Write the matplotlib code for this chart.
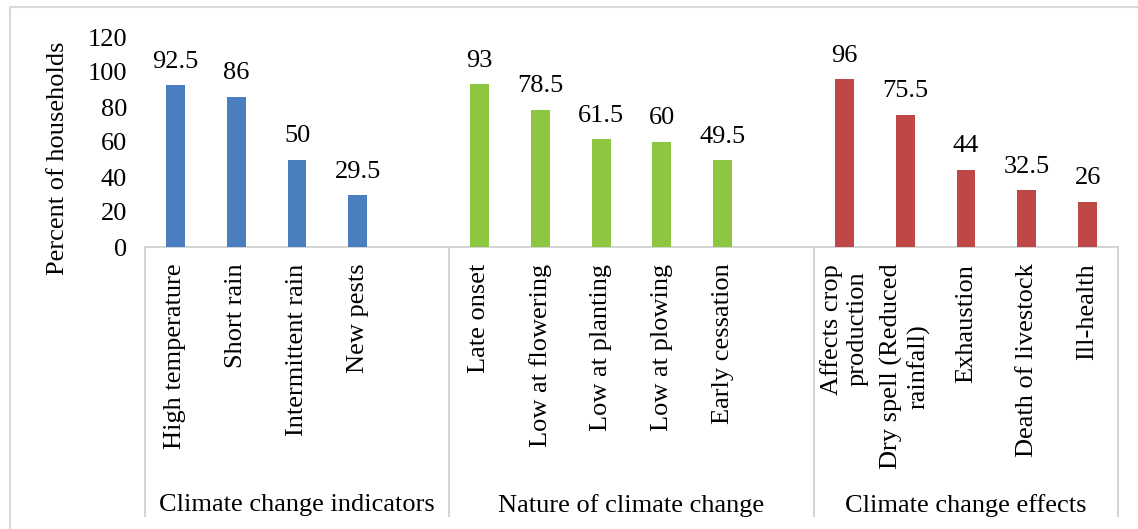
import matplotlib.pyplot as plt
import numpy as np

plt.rcParams['font.family'] = ['Liberation Serif', 'DejaVu Serif']

groups = ["Climate change indicators", "Nature of climate change", "Climate change effects"]
indicator_labels = ["High temperature", "Short rain", "Intermittent rain", "New pests"]
indicator_values = [92.5, 86, 50, 29.5]
nature_labels = ["Late onset", "Low at flowering", "Low at planting", "Low at plowing", "Early cessation"]
nature_values = [93, 78.5, 61.5, 60, 49.5]
effect_labels = ["Affects crop\nproduction", "Dry spell (Reduced\nrainfall)", "Exhaustion",
                 "Death of livestock", "Ill-health"]
effect_values = [96, 75.5, 44, 32.5, 26]
colors = ["#4A7EBE", "#8DC63F", "#BF4846"]
y_ticks = [0, 20, 40, 60, 80, 100, 120]

# each group keeps an empty category slot at its end, like the Excel source (not the last one)
group_labels = [indicator_labels, nature_labels, effect_labels]
group_values = [indicator_values, nature_values, effect_values]
slots = [len(indicator_labels) + 1, len(nature_labels) + 1, len(effect_labels)]

W, H = 1138, 529
fig = plt.figure(figsize=(W / 100, H / 100), dpi=100)
ax = fig.add_axes([145 / W, 1 - 247 / H, (1118 - 145) / W, 210 / H])

fs = 19
tick_pos, tick_txt = [], []
start = 0
edges = [-0.5]
for g in range(3):
    x = np.arange(len(group_values[g])) + start
    ax.bar(x, group_values[g], width=0.31, color=colors[g], zorder=3)
    for xi, v in zip(x, group_values[g]):
        ax.annotate(f"{v:g}", (xi, v), xytext=(0, 9), textcoords="offset points",
                    ha="center", va="bottom", fontsize=fs)
    tick_pos += list(x)
    tick_txt += group_labels[g]
    mid = start - 0.5 + slots[g] / 2
    ax.text(mid, -1.23, groups[g], transform=ax.get_xaxis_transform(),
            ha="center", va="center", fontsize=fs)
    start += slots[g]
    edges.append(start - 0.5)

ax.set_xlim(-0.5, start - 0.5)
ax.set_ylim(0, 120)
ax.set_yticks(y_ticks)
ax.set_xticks(tick_pos)
ax.set_xticklabels(tick_txt, rotation=90, va="top", ha="center",
                   multialignment="center", fontsize=fs)
ax.tick_params(axis="y", length=0, pad=13, labelsize=fs)
ax.tick_params(axis="x", length=0, pad=12)

for s in ["top", "right", "left"]:
    ax.spines[s].set_visible(False)
ax.spines["bottom"].set_color("#D0D0D0")
ax.spines["bottom"].set_linewidth(1.3)

for e in edges:
    ax.plot([e, e], [0, -1.28], transform=ax.get_xaxis_transform(), color="#D0D0D0",
            lw=1.3, clip_on=False)

fig.text(58 / W, 1 - 158 / H, "Percent of households", rotation=90, ha="center",
         va="center", fontsize=fs)

# outer chart border (cut at the bottom and right in the source)
fig.add_artist(plt.Line2D([10 / W, 10 / W, 1], [0, 1 - 7 / H, 1 - 7 / H],
                          transform=fig.transFigure, color="#D9D9D9", lw=1.5))

fig.savefig("out.png", dpi=100)
